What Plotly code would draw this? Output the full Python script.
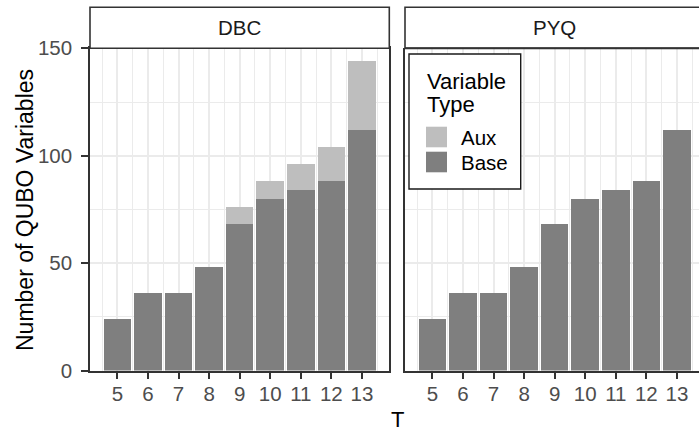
import plotly.graph_objects as go

# ---------------- data ----------------
T_values = [5, 6, 7, 8, 9, 10, 11, 12, 13]
dbc_base = [24, 36, 36, 48, 68, 80, 84, 88, 112]
dbc_aux = [0, 0, 0, 0, 8, 8, 12, 16, 32]
pyq_base = [24, 36, 36, 48, 68, 80, 84, 88, 112]
pyq_aux = [0, 0, 0, 0, 0, 0, 0, 0, 0]
panels = ["DBC", "PYQ"]
legend_labels = ["Aux", "Base"]
y_ticks = [0, 50, 100, 150]

# ---------------- style ----------------
W, H = 699, 432
BASE_COL = "#7F7F7F"
AUX_COL = "#BEBEBE"
GRID = "#EBEBEB"
BORDER = "#333333"
FONT = "Liberation Sans, Arial, sans-serif"


def px(x):
    return x / W


def py(y):
    return 1 - y / H


PANEL_TOP, PANEL_BOT = 48.3, 370.5
L_X0, L_X1 = 90, 389.3
R_X0 = 405
UNIT = (L_X1 - L_X0) / (13.895 - 4.105)
x_range_left = [4.105, 13.895]
x_range_right = [4.105, 4.105 + (W - R_X0) / UNIT]

fig = go.Figure()

for i, (base, aux) in enumerate([(dbc_base, dbc_aux), (pyq_base, pyq_aux)]):
    xa = "x" if i == 0 else "x2"
    ya = "y" if i == 0 else "y2"
    fig.add_trace(go.Bar(x=T_values, y=base, width=0.9, marker=dict(color=BASE_COL, line=dict(width=0)),
                         name="Base", xaxis=xa, yaxis=ya, showlegend=False))
    fig.add_trace(go.Bar(x=T_values, y=aux, width=0.9, marker=dict(color=AUX_COL, line=dict(width=0)),
                         name="Aux", xaxis=xa, yaxis=ya, showlegend=False))

common_x = dict(
    tickmode="array", tickvals=T_values, ticktext=[str(t) for t in T_values],
    showgrid=True, gridcolor=GRID, gridwidth=2,
    minor=dict(tickvals=[t + 0.5 for t in [4] + T_values], showgrid=True, gridcolor=GRID, gridwidth=1.3, ticks=""),
    ticks="outside", ticklen=7, tickwidth=1.6, tickcolor=BORDER,
    showline=True, linecolor=BORDER, linewidth=1.6,
    tickfont=dict(family=FONT, size=20.5, color="#4D4D4D"),
    zeroline=False, fixedrange=True, automargin=False, ticklabelstandoff=-3,
)
common_y = dict(
    range=[0, 150], tickmode="array", tickvals=y_ticks,
    showgrid=True, gridcolor=GRID, gridwidth=2,
    minor=dict(tickvals=[25, 75, 125], showgrid=True, gridcolor=GRID, gridwidth=1.3, ticks=""),
    showline=True, linecolor=BORDER, linewidth=1.6,
    tickfont=dict(family=FONT, size=20.5, color="#4D4D4D"),
    zeroline=False, fixedrange=True, automargin=False,
    domain=[py(PANEL_BOT), py(PANEL_TOP)],
)

fig.update_layout(
    width=W, height=H, autosize=False,
    margin=dict(l=0, r=0, t=0, b=0, pad=0, autoexpand=False),
    paper_bgcolor="white", plot_bgcolor="white",
    barmode="stack", showlegend=False,
    xaxis=dict(common_x, domain=[px(L_X0), px(L_X1)], range=x_range_left, anchor="y", mirror=True),
    xaxis2=dict(common_x, domain=[px(R_X0), 1], range=x_range_right, anchor="y2"),
    yaxis=dict(common_y, anchor="x", ticks="outside", ticklen=7, tickwidth=1.6, tickcolor=BORDER,
               mirror=True, ticklabelstandoff=5),
    yaxis2=dict(common_y, anchor="x2", showticklabels=False, ticks="", matches="y"),
)

shapes = []
annotations = []
# strips
for name, x0, x1 in [(panels[0], L_X0, L_X1), (panels[1], R_X0, W + 10)]:
    shapes.append(dict(type="rect", xref="paper", yref="paper", x0=px(x0), x1=px(x1),
                       y0=py(PANEL_TOP), y1=py(7.3), fillcolor="white",
                       line=dict(color=BORDER, width=1.6), layer="above"))
    cx = (x0 + (x1 if x1 <= W else R_X0 + (L_X1 - L_X0))) / 2
    annotations.append(dict(text=name, xref="paper", yref="paper", x=px(cx), y=py(28),
                            xanchor="center", yanchor="middle", showarrow=False,
                            font=dict(family=FONT, size=20.5, color="#1A1A1A")))
# panel top border (right panel)
shapes.append(dict(type="line", xref="paper", yref="paper", x0=px(R_X0), x1=1.02,
                   y0=py(PANEL_TOP), y1=py(PANEL_TOP), line=dict(color=BORDER, width=2)))

# axis titles
annotations.append(dict(text="Number of QUBO Variables", xref="paper", yref="paper",
                        x=px(24.5), y=py(210.5), textangle=-90, xanchor="center", yanchor="middle",
                        showarrow=False, font=dict(family=FONT, size=23, color="black")))
annotations.append(dict(text="T", xref="paper", yref="paper", x=px(397), y=py(419),
                        xanchor="center", yanchor="middle", showarrow=False,
                        font=dict(family=FONT, size=22, color="black")))

# manual legend
shapes.append(dict(type="rect", xref="paper", yref="paper", x0=px(409), x1=px(520.7),
                   y0=py(189), y1=py(54), fillcolor="white",
                   line=dict(color="#1A1A1A", width=1.4), layer="above"))
annotations.append(dict(text="Variable", xref="paper", yref="paper", x=px(425), y=py(81),
                        xanchor="left", yanchor="middle", showarrow=False,
                        font=dict(family=FONT, size=22, color="black")))
annotations.append(dict(text="Type", xref="paper", yref="paper", x=px(425), y=py(104.5),
                        xanchor="left", yanchor="middle", showarrow=False,
                        font=dict(family=FONT, size=22, color="black")))
for lab, col, ytop in [(legend_labels[0], AUX_COL, 126.7), (legend_labels[1], BASE_COL, 151.7)]:
    shapes.append(dict(type="rect", xref="paper", yref="paper", x0=px(426), x1=px(447),
                       y0=py(ytop + 20.6), y1=py(ytop), fillcolor=col, line=dict(width=0), layer="above"))
    annotations.append(dict(text=lab, xref="paper", yref="paper", x=px(459), y=py(ytop + 10.3),
                            xanchor="left", yanchor="middle", showarrow=False,
                            font=dict(family=FONT, size=20.5, color="black")))

fig.update_layout(shapes=shapes, annotations=annotations)
fig.write_html("out.html")
